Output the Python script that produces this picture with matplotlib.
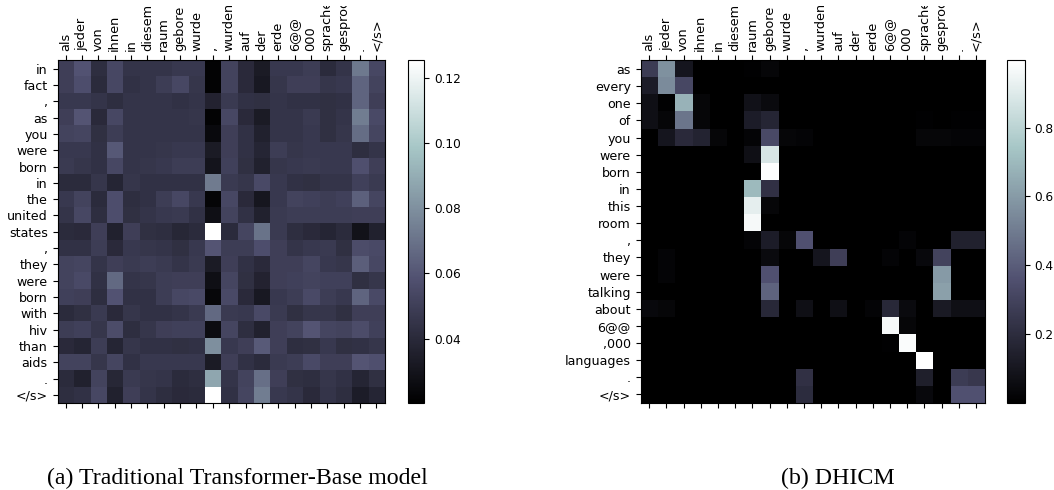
import numpy as np
import matplotlib
matplotlib.use('Agg')
import matplotlib.pyplot as plt
from matplotlib.transforms import Bbox

W, H = 1054, 490

src_tokens = ['als', 'jeder', 'von', 'ihnen', 'in', 'diesem', 'raum', 'gebore', 'wurde', ',',
              'wurden', 'auf', 'der', 'erde', '6@@', '000', 'sprachen', 'gesprochen', '.', '</s>']
tgt_a = ['in', 'fact', ',', 'as', 'you', 'were', 'born', 'in', 'the', 'united', 'states', ',',
         'they', 'were', 'born', 'with', 'hiv', 'than', 'aids', '.', '</s>']
tgt_b = ['as', 'every', 'one', 'of', 'you', 'were', 'born', 'in', 'this', 'room', ',',
         'they', 'were', 'talking', 'about', '6@@', ',000', 'languages', '.', '</s>']

# attention du modele de base, en millièmes
attn_a = [
    [50, 59, 42, 54, 45, 45, 45, 47, 47, 22, 52, 40, 33, 47, 47, 49, 41, 45, 72, 54],
    [50, 57, 41, 54, 44, 45, 49, 54, 46, 22, 52, 40, 32, 46, 50, 50, 46, 47, 65, 52],
    [47, 47, 45, 42, 45, 45, 45, 44, 45, 37, 48, 44, 43, 45, 44, 44, 43, 44, 65, 50],
    [50, 60, 40, 54, 45, 45, 45, 45, 46, 22, 54, 40, 33, 45, 45, 48, 43, 45, 74, 55],
    [52, 53, 43, 49, 45, 45, 45, 45, 45, 25, 50, 44, 36, 45, 45, 47, 43, 46, 68, 53],
    [47, 47, 44, 61, 45, 45, 46, 47, 47, 33, 50, 44, 38, 49, 46, 47, 47, 47, 42, 45],
    [48, 46, 44, 54, 45, 46, 47, 49, 49, 30, 51, 43, 36, 46, 47, 48, 47, 47, 58, 50],
    [41, 41, 46, 38, 46, 44, 44, 44, 44, 73, 48, 46, 55, 47, 44, 43, 45, 45, 51, 48],
    [47, 52, 41, 57, 42, 44, 49, 54, 47, 23, 54, 40, 31, 47, 52, 51, 49, 51, 64, 53],
    [45, 54, 42, 57, 43, 45, 47, 48, 44, 28, 52, 44, 36, 48, 49, 49, 49, 49, 50, 50],
    [41, 40, 50, 36, 50, 43, 42, 39, 41, 125, 41, 53, 70, 48, 42, 40, 38, 41, 29, 36],
    [44, 44, 49, 40, 47, 46, 45, 43, 47, 60, 49, 49, 57, 50, 45, 47, 48, 43, 56, 55],
    [52, 53, 45, 50, 48, 49, 48, 45, 48, 33, 50, 44, 40, 50, 50, 53, 47, 46, 63, 54],
    [52, 55, 44, 67, 45, 46, 49, 50, 50, 28, 53, 43, 37, 50, 51, 52, 51, 51, 43, 46],
    [51, 50, 42, 59, 44, 44, 49, 54, 55, 24, 55, 40, 32, 47, 49, 55, 49, 47, 65, 55],
    [41, 43, 48, 40, 46, 44, 44, 45, 48, 67, 48, 47, 55, 48, 43, 46, 46, 43, 50, 50],
    [49, 51, 46, 56, 42, 46, 50, 51, 51, 26, 53, 42, 36, 50, 52, 60, 53, 52, 56, 51],
    [40, 38, 49, 38, 46, 44, 44, 43, 44, 80, 47, 50, 62, 50, 42, 43, 47, 43, 44, 46],
    [52, 52, 46, 53, 44, 47, 47, 47, 47, 33, 50, 44, 41, 48, 49, 55, 50, 50, 60, 58],
    [41, 36, 52, 39, 48, 46, 45, 41, 42, 88, 45, 52, 69, 50, 43, 42, 46, 44, 38, 43],
    [42, 44, 54, 36, 50, 45, 42, 40, 41, 125, 44, 53, 74, 47, 45, 40, 45, 42, 34, 38],
]

# attention DHICM, en centièmes
attn_b = [
    [27, 57, 10, 0, 0, 0, 1, 3, 0, 0, 0, 0, 0, 0, 0, 0, 0, 0, 0, 0],
    [13, 55, 32, 0, 0, 0, 0, 0, 0, 0, 0, 0, 0, 0, 0, 0, 0, 0, 0, 0],
    [7, 1, 68, 3, 0, 0, 8, 5, 0, 0, 0, 0, 0, 0, 0, 0, 0, 0, 0, 0],
    [7, 3, 48, 3, 0, 0, 13, 17, 0, 0, 0, 0, 0, 0, 0, 0, 1, 0, 1, 1],
    [0, 10, 19, 16, 3, 0, 2, 33, 3, 2, 0, 0, 0, 0, 0, 0, 3, 3, 2, 2],
    [0, 0, 0, 0, 0, 0, 7, 88, 0, 0, 0, 0, 0, 0, 0, 0, 0, 0, 0, 0],
    [0, 0, 0, 0, 0, 0, 0, 99, 0, 0, 0, 0, 0, 0, 0, 0, 0, 0, 0, 0],
    [0, 0, 0, 0, 0, 0, 70, 22, 0, 0, 0, 0, 0, 0, 0, 0, 0, 0, 0, 0],
    [0, 0, 0, 0, 0, 0, 92, 3, 0, 0, 0, 0, 0, 0, 0, 0, 0, 0, 0, 0],
    [0, 0, 0, 0, 0, 0, 97, 0, 0, 0, 0, 0, 0, 0, 0, 0, 0, 0, 0, 0],
    [0, 0, 0, 0, 0, 0, 2, 13, 3, 36, 0, 0, 0, 0, 0, 2, 0, 0, 15, 15],
    [0, 2, 0, 0, 0, 0, 0, 5, 0, 0, 10, 28, 0, 0, 2, 0, 4, 30, 0, 0],
    [0, 2, 0, 0, 0, 0, 0, 36, 0, 0, 0, 0, 0, 0, 0, 0, 0, 60, 0, 0],
    [0, 0, 0, 0, 0, 0, 0, 42, 0, 0, 0, 0, 0, 0, 0, 0, 0, 62, 0, 0],
    [4, 3, 0, 0, 0, 0, 0, 18, 0, 7, 0, 7, 0, 2, 18, 5, 0, 12, 7, 7],
    [0, 0, 0, 0, 0, 0, 0, 0, 0, 0, 0, 0, 0, 0, 97, 3, 0, 0, 0, 0],
    [0, 0, 0, 0, 0, 0, 0, 0, 0, 0, 0, 0, 0, 0, 1, 98, 0, 0, 0, 0],
    [0, 0, 0, 0, 0, 0, 0, 0, 0, 0, 0, 0, 0, 0, 0, 0, 100, 0, 0, 0],
    [0, 0, 0, 0, 0, 0, 0, 0, 0, 22, 0, 0, 0, 0, 0, 0, 14, 0, 27, 25],
    [0, 0, 0, 0, 0, 0, 0, 0, 0, 20, 0, 0, 0, 0, 0, 0, 4, 0, 36, 36],
]

ticks_a = [0.04, 0.06, 0.08, 0.10, 0.12]
ticks_b = [0.2, 0.4, 0.6, 0.8]

plt.rcParams['font.size'] = 8.7


def box(x0, y0, x1, y1):
    # pixels de l'image (origine en haut) vers coordonnees figure
    return [x0 / W, 1 - y1 / H, (x1 - x0) / W, (y1 - y0) / H]


def heatmap(fig, rect, cbar_rect, data, ylabels, vmin, vmax, ticks, fmt):
    ax = fig.add_axes(box(*rect))
    im = ax.imshow(data, cmap='bone', vmin=vmin, vmax=vmax, aspect='auto',
                   interpolation='nearest')
    ax.set_xticks(range(len(src_tokens)))
    ax.set_xticklabels(src_tokens, rotation=90, fontsize=9.3)
    ax.set_yticks(range(len(ylabels)))
    ax.set_yticklabels(ylabels, fontsize=9.1)
    ax.tick_params(axis='x', top=True, labeltop=True, bottom=True, labelbottom=False)
    # les etiquettes trop longues sont coupees par le bord haut de la figure
    clip = Bbox([[0, 0], [W, H - 6]])
    for lab in ax.get_xticklabels():
        lab.set_clip_box(clip)
        lab.set_clip_on(True)
    cax = fig.add_axes(box(*cbar_rect))
    cb = fig.colorbar(im, cax=cax)
    cb.set_ticks(ticks)
    cb.set_ticklabels([fmt.format(t) for t in ticks])
    return ax


fig = plt.figure(figsize=(W / 100, H / 100), dpi=100)

heatmap(fig, (57.5, 60.5, 384.5, 403), (407.5, 60.5, 424.5, 403),
        np.array(attn_a) / 1000, tgt_a, 0.0202, 0.1254, ticks_a, '{:.2f}')
heatmap(fig, (640.5, 60.5, 984.5, 403), (1007, 60.5, 1024.5, 403),
        np.array(attn_b) / 100, tgt_b, 0.0, 0.995, ticks_b, '{:.1f}')

fig.text(237.5 / W, 1 - 478.5 / H, '(a) Traditional Transformer-Base model',
         family='Liberation Serif', fontsize=17.2, ha='center', va='center')
fig.text(838 / W, 1 - 478.5 / H, '(b) DHICM',
         family='Liberation Serif', fontsize=17.2, ha='center', va='center')

fig.savefig('out.png', dpi=100)
